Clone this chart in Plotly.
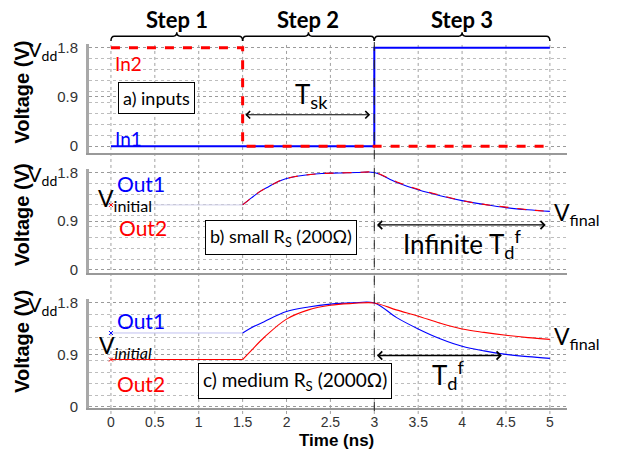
import plotly.graph_objects as go

# ---------------- data ----------------
step_edges = [0, 1.5, 3, 5]
step_names = ["Step 1", "Step 2", "Step 3"]
x_ticks = [0, 0.5, 1, 1.5, 2, 2.5, 3, 3.5, 4, 4.5, 5]
x_tick_text = ["0", "0.5", "1", "1.5", "2", "2.5", "3", "3.5", "4", "4.5", "5"]
y_ticks = [0, 0.9, 1.8]
y_tick_text = ["0", "0.9", "1.8"]

# panel a: inputs
in1_t = [0, 3, 5]
in1_v = [0, 1.8, 1.8]
in2_t = [0, 1.5, 5]
in2_v = [1.8, 0, 0]

# panel b: small Rs (outputs overlap)
b_pre_t = [0, 1.5]
b_init = 1.2
b_t = [1.5, 1.6, 1.7, 1.8, 1.9, 2.0, 2.2, 2.4, 2.6, 2.8, 3.0,
       3.25, 3.5, 3.75, 4.0, 4.25, 4.5, 4.75, 5.0]
b_out1 = [1.2, 1.33, 1.45, 1.54, 1.63, 1.69, 1.75, 1.78, 1.79, 1.8, 1.8,
          1.62, 1.48, 1.37, 1.28, 1.21, 1.15, 1.11, 1.08]
b_out2 = [1.2, 1.33, 1.45, 1.54, 1.63, 1.69, 1.75, 1.78, 1.79, 1.8, 1.8,
          1.63, 1.49, 1.38, 1.28, 1.21, 1.16, 1.11, 1.08]

# panel c: medium Rs
c_pre_t = [0, 1.5]
c_init1 = 1.28
c_init2 = 0.82
c_t = [1.5, 1.6, 1.75, 2.0, 2.25, 2.5, 2.75, 3.0,
       3.25, 3.5, 3.75, 4.0, 4.25, 4.5, 4.75, 5.0]
c_out1 = [1.28, 1.37, 1.48, 1.65, 1.73, 1.78, 1.8, 1.8,
          1.55, 1.35, 1.18, 1.05, 0.97, 0.91, 0.87, 0.84]
c_out2 = [0.82, 0.98, 1.21, 1.52, 1.68, 1.76, 1.79, 1.8,
          1.68, 1.57, 1.45, 1.35, 1.29, 1.24, 1.2, 1.17]

tsk_span = [1.5, 3]
tdf_inf_span = [3, 5]
tdf_span = [3, 4.5]

RED = "#ff0000"
BLUE = "#0000ff"
W, H = 618, 456


def py(p):
    return 1 - p / H


def pxx(p):
    return p / W


LAB = "Lato"
TICKF = "Liberation Sans"

fig = go.Figure()

# panel a
fig.add_trace(go.Scatter(x=in1_t, y=in1_v, mode="lines", line=dict(color=BLUE, width=2, shape="hv"),
                         xaxis="x", yaxis="y", showlegend=False))
fig.add_trace(go.Scatter(x=in2_t, y=in2_v, mode="lines", line=dict(color=RED, width=3, dash="dash", shape="hv"),
                         xaxis="x", yaxis="y", showlegend=False))

# panel b
fig.add_trace(go.Scatter(x=b_pre_t, y=[b_init] * len(b_pre_t), mode="lines",
                         line=dict(color="#d0d0ea", width=1), xaxis="x2", yaxis="y2", showlegend=False))
fig.add_trace(go.Scatter(x=[b_pre_t[0]], y=[b_init], mode="markers",
                         marker=dict(symbol="x-thin", size=4, line=dict(color=RED, width=1)),
                         xaxis="x2", yaxis="y2", showlegend=False))
fig.add_trace(go.Scatter(x=b_t, y=b_out1, mode="lines", line=dict(color=BLUE, width=1.1, shape="spline"),
                         xaxis="x2", yaxis="y2", showlegend=False))
fig.add_trace(go.Scatter(x=b_t, y=b_out2, mode="lines", line=dict(color=RED, width=1.1, dash="dash", shape="spline"),
                         xaxis="x2", yaxis="y2", showlegend=False))

# panel c
fig.add_trace(go.Scatter(x=c_pre_t, y=[c_init1] * len(c_pre_t), mode="lines",
                         line=dict(color="#c0c0f0", width=1), xaxis="x3", yaxis="y3", showlegend=False))
fig.add_trace(go.Scatter(x=c_pre_t, y=[c_init2] * len(c_pre_t), mode="lines",
                         line=dict(color=RED, width=1.1), xaxis="x3", yaxis="y3", showlegend=False))
fig.add_trace(go.Scatter(x=[c_pre_t[0], c_pre_t[0]], y=[c_init1, c_init2], mode="markers",
                         marker=dict(symbol="x-thin", size=4, line=dict(color=[BLUE, RED], width=1)),
                         xaxis="x3", yaxis="y3", showlegend=False))
fig.add_trace(go.Scatter(x=c_t, y=c_out1, mode="lines", line=dict(color=BLUE, width=1.1, shape="spline"),
                         xaxis="x3", yaxis="y3", showlegend=False))
fig.add_trace(go.Scatter(x=c_t, y=c_out2, mode="lines", line=dict(color=RED, width=1.1, shape="spline"),
                         xaxis="x3", yaxis="y3", showlegend=False))

xdom = [pxx(89), pxx(567)]
xrange = [-0.25, 5.195]
ydoms = [[py(152), py(40)], [py(275), py(168)], [py(414), py(302)]]
yranges = [[-0.125, 1.871], [-0.054, 1.872], [-0.02, 1.867]]

layout = dict(width=W, height=H, margin=dict(l=0, r=0, t=0, b=0),
              paper_bgcolor="white", plot_bgcolor="white", showlegend=False)
for i in range(3):
    sx = "" if i == 0 else str(i + 1)
    layout["xaxis" + sx] = dict(domain=xdom, range=xrange, anchor="y" + sx, showgrid=False, zeroline=False,
                               showline=True, linecolor="#999999", linewidth=2,
                               tickvals=x_ticks, ticktext=x_tick_text, ticks="",
                               showticklabels=(i == 2), ticklabelstandoff=0,
                               tickfont=dict(family=TICKF, size=14, color="#333333"))
    layout["yaxis" + sx] = dict(domain=ydoms[i], range=yranges[i], anchor="x" + sx, zeroline=False,
                               showline=True, linecolor="#a8a8a8", linewidth=3,
                               tickvals=y_ticks, ticktext=y_tick_text, ticks="", ticklabelstandoff=5,
                               tickfont=dict(family=TICKF, size=15, color="#333333"),
                               showgrid=True, gridcolor="#9a9a9a", griddash="dot", gridwidth=1,
                               minor=dict(dtick=0.2, tick0=0, showgrid=True, gridcolor="#bdbdbd",
                                          griddash="dot", gridwidth=1))
fig.update_layout(**layout)

shapes = []
# vertical grid lines spanning all panels
for t in x_ticks:
    shapes.append(dict(type="line", xref="x", yref="paper", x0=t, x1=t, y0=py(420), y1=py(40),
                       line=dict(color="#a0a0a0", width=1, dash="dot"), layer="below"))
# dashed line at step 2/3 boundary
shapes.append(dict(type="line", xref="x", yref="paper", x0=step_edges[2], x1=step_edges[2],
                   y0=py(417), y1=py(36), line=dict(color="#222222", width=1, dash="dash")))
# step brackets
d = 0.04
for a, b in zip(step_edges[:-1], step_edges[1:]):
    m = (a + b) / 2
    path = (f"M {a},{py(37)} Q {a},{py(32)} {a + d},{py(32)} L {m - d},{py(32)} "
            f"Q {m},{py(32)} {m},{py(28)} Q {m},{py(32)} {m + d},{py(32)} L {b - d},{py(32)} "
            f"Q {b},{py(32)} {b},{py(37)}")
    shapes.append(dict(type="path", xref="x", yref="paper", path=path,
                       line=dict(color="black", width=1.5)))
fig.update_layout(shapes=shapes)

ann = []
# step titles
for a, b, name in zip(step_edges[:-1], step_edges[1:], step_names):
    ann.append(dict(x=(a + b) / 2, y=py(15), xref="x", yref="paper", text=f"<b>{name}</b>", showarrow=False,
                    font=dict(family=LAB, size=22, color="black"), xanchor="center", yanchor="middle"))
# y titles & Vdd
for yc, yv in [(90, 44), (216, 172), (346, 306)]:
    ann.append(dict(x=pxx(22), y=py(yc), xref="paper", yref="paper", text="<b>Voltage (V)</b>",
                    textangle=-90, showarrow=False, font=dict(family=TICKF, size=20, color="black"),
                    xanchor="center", yanchor="middle"))
    ann.append(dict(x=pxx(59), y=py(yv + 3), xref="paper", yref="paper", text="V<sub>dd</sub>",
                    showarrow=False, font=dict(family=LAB, size=20, color="black"),
                    xanchor="right", yanchor="middle"))
# x title
ann.append(dict(x=pxx(336), y=py(458), xref="paper", yref="paper", text="<b>Time (ns)</b>", showarrow=False,
                font=dict(family=TICKF, size=17, color="black"), xanchor="center", yanchor="bottom",
                borderpad=0))

# panel a texts
ann.append(dict(x=0.02, y=1.52, xref="x", yref="y", text="In2", showarrow=False,
                font=dict(family=LAB, size=19, color=RED), xanchor="left", yanchor="middle"))
ann.append(dict(x=0.02, y=0.14, xref="x", yref="y", text="In1", showarrow=False,
                font=dict(family=LAB, size=19, color=BLUE), xanchor="left", yanchor="middle"))
ann.append(dict(x=0.52, y=0.89, xref="x", yref="y", text="a) inputs", showarrow=False,
                font=dict(family=LAB, size=18, color="black"), bordercolor="black", borderwidth=1,
                borderpad=4, bgcolor="white", xanchor="center", yanchor="middle"))
ann.append(dict(x=tsk_span[0] + 0.03, y=0.575, ax=tsk_span[1] - 0.03, ay=0.575, xref="x", yref="y",
                axref="x", ayref="y", text="", showarrow=True, arrowhead=4, startarrowhead=4,
                arrowside="end+start", arrowsize=1.2, arrowwidth=1.2, arrowcolor="black"))
ann.append(dict(x=2.28, y=0.92, xref="x", yref="y", text="T<sub>sk</sub>", showarrow=False,
                font=dict(family=LAB, size=26, color="black"), xanchor="center", yanchor="middle"))

# panel b texts
ann.append(dict(x=0.045, y=1.60, xref="x2", yref="y2", text="Out1", showarrow=False,
                font=dict(family=LAB, size=21, color=BLUE), xanchor="left", yanchor="middle"))
ann.append(dict(x=-0.17, y=1.30, xref="x2", yref="y2", text="V<sub>initial</sub>", showarrow=False,
                font=dict(family=LAB, size=23, color="black"), xanchor="left", yanchor="middle"))
ann.append(dict(x=0.07, y=0.79, xref="x2", yref="y2", text="Out2", showarrow=False,
                font=dict(family=LAB, size=21, color=RED), xanchor="left", yanchor="middle"))
ann.append(dict(x=1.94, y=0.59, xref="x2", yref="y2", text="b) small R<sub>S</sub> (200Ω)", showarrow=False,
                font=dict(family=LAB, size=18, color="black"), bordercolor="black", borderwidth=1,
                borderpad=4, bgcolor="white", xanchor="center", yanchor="middle"))
ann.append(dict(x=tdf_inf_span[0] + 0.03, y=0.83, ax=tdf_inf_span[1] - 0.03, ay=0.83, xref="x2", yref="y2",
                axref="x2", ayref="y2", text="", showarrow=True, arrowhead=4, startarrowhead=4,
                arrowside="end+start", arrowsize=1.2, arrowwidth=1.3, arrowcolor="black"))
ann.append(dict(x=4.0, y=0.47, xref="x2", yref="y2", text="Infinite T<sub>d</sub><sup>f</sup>", showarrow=False,
                font=dict(family=LAB, size=26, color="black"), xanchor="center", yanchor="middle"))
ann.append(dict(x=5.02, y=1.05, xref="x2", yref="y2", text="V<sub>final</sub>", showarrow=False,
                font=dict(family=LAB, size=23, color="black"), xanchor="left", yanchor="middle"))

# panel c texts
ann.append(dict(x=0.045, y=1.49, xref="x3", yref="y3", text="Out1", showarrow=False,
                font=dict(family=LAB, size=21, color=BLUE), xanchor="left", yanchor="middle"))
ann.append(dict(x=-0.16, y=1.05, xref="x3", yref="y3", text="V<sub><i>initial</i></sub>", showarrow=False,
                font=dict(family=LAB, size=23, color="black"), xanchor="left", yanchor="middle"))
ann.append(dict(x=0.045, y=0.41, xref="x3", yref="y3", text="Out2", showarrow=False,
                font=dict(family=LAB, size=21, color=RED), xanchor="left", yanchor="middle"))
ann.append(dict(x=2.10, y=0.45, xref="x3", yref="y3", text="c) medium R<sub>S</sub> (2000Ω)", showarrow=False,
                font=dict(family=LAB, size=19, color="black"), bordercolor="black", borderwidth=1,
                borderpad=4, bgcolor="white", xanchor="center", yanchor="middle"))
ann.append(dict(x=tdf_span[0] + 0.03, y=0.89, ax=tdf_span[1] - 0.03, ay=0.89, xref="x3", yref="y3",
                axref="x3", ayref="y3", text="", showarrow=True, arrowhead=4, startarrowhead=4,
                arrowside="end+start", arrowsize=1.2, arrowwidth=1.3, arrowcolor="black"))
ann.append(dict(x=3.84, y=0.56, xref="x3", yref="y3", text="T<sub>d</sub><sup>f</sup>", showarrow=False,
                font=dict(family=LAB, size=26, color="black"), xanchor="center", yanchor="middle"))
ann.append(dict(x=5.02, y=1.20, xref="x3", yref="y3", text="V<sub>final</sub>", showarrow=False,
                font=dict(family=LAB, size=23, color="black"), xanchor="left", yanchor="middle"))

fig.update_layout(annotations=ann)
fig.write_html("out.html", config={"displayModeBar": False},
               post_script="document.body.style.margin='0px';document.body.style.overflow='hidden';")
